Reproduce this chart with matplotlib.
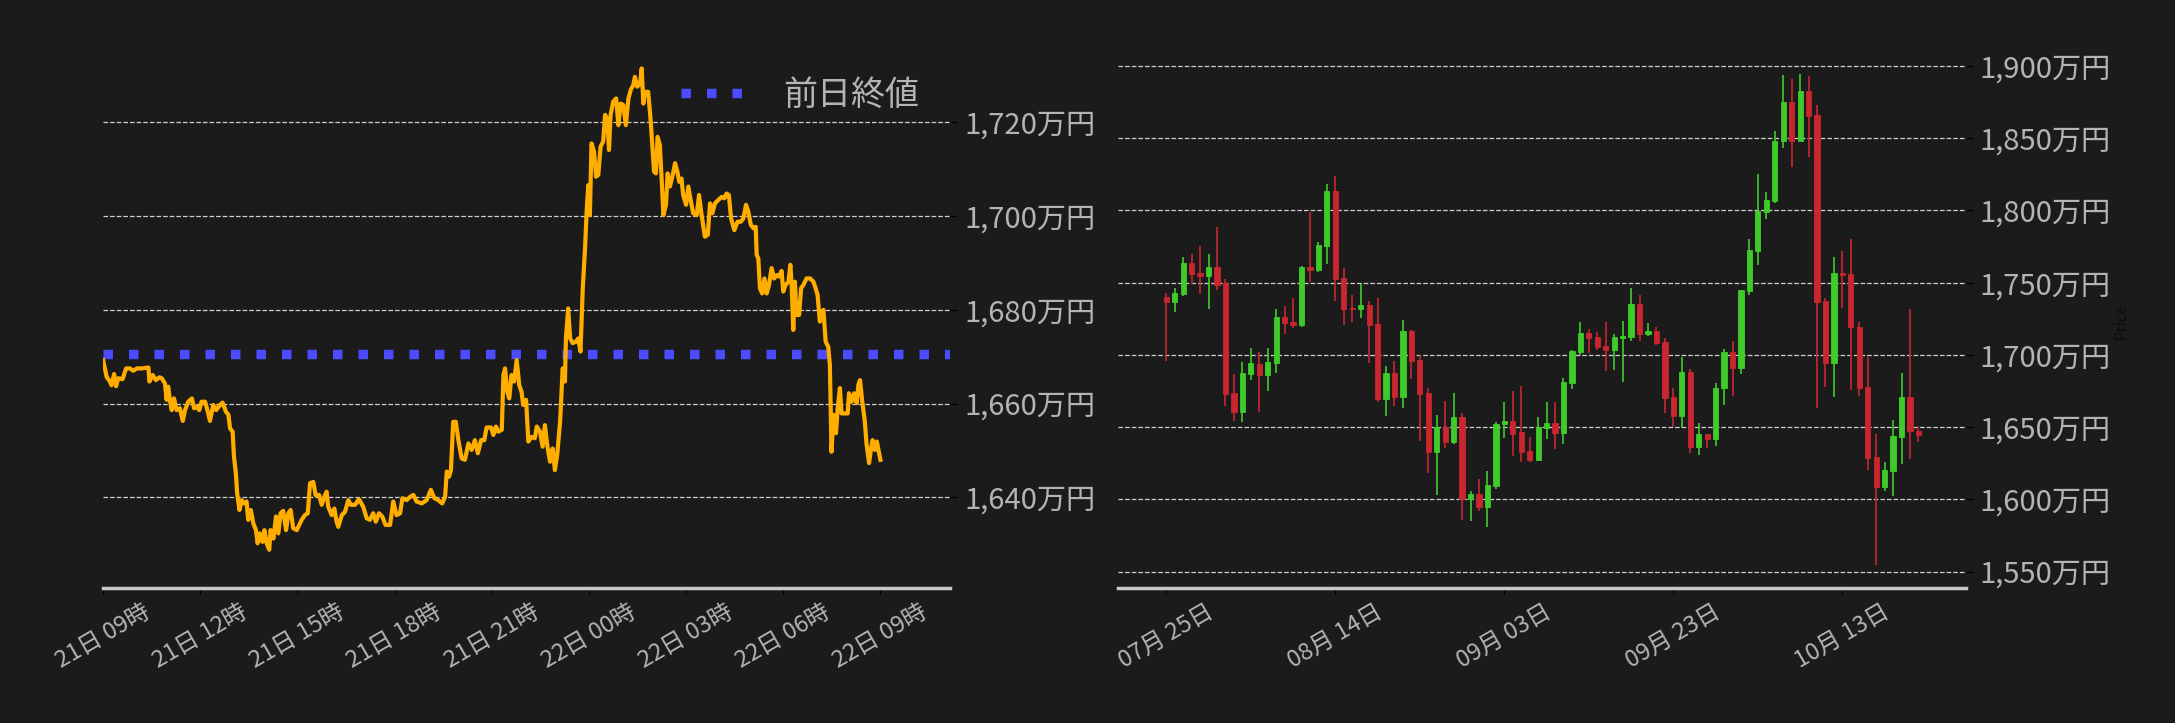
import matplotlib.pyplot as plt
import matplotlib.dates as mdates
import numpy as np
import pandas as pd

plt.rcParams['font.family'] = ['Noto Sans CJK JP', 'DejaVu Sans']

BG = '#1b1b1b'
TXT = '#b4b4b4'
GRID = '#d0d0d0'

# --- intraday price (hours since 21日 09:00, 万円) ---
start = pd.Timestamp('2025-10-21 09:00')
hours = [
    0.00, 0.11, 0.21, 0.26, 0.34, 0.40, 0.47, 0.60, 0.71, 0.83,
    0.93, 1.04, 1.19, 1.40, 1.43, 1.53, 1.63, 1.74, 1.81, 1.91,
    1.96, 2.01, 2.07, 2.12, 2.19, 2.27, 2.37, 2.46, 2.53, 2.63,
    2.74, 2.81, 2.89, 2.97, 3.04, 3.15, 3.22, 3.30, 3.40, 3.49,
    3.61, 3.69, 3.79, 3.87, 3.92, 4.00, 4.04, 4.10, 4.14, 4.21,
    4.28, 4.35, 4.43, 4.48, 4.56, 4.64, 4.72, 4.77, 4.84, 4.92,
    4.98, 5.05, 5.13, 5.17, 5.26, 5.34, 5.41, 5.48, 5.56, 5.65,
    5.72, 5.79, 5.87, 5.98,
    6.13, 6.23, 6.32, 6.39, 6.49, 6.56, 6.67, 6.75, 6.83, 6.90,
    6.95, 7.06, 7.14, 7.21, 7.26, 7.37, 7.47, 7.57, 7.65, 7.78,
    7.90, 8.03, 8.14, 8.24, 8.34, 8.42, 8.52, 8.62, 8.72, 8.86,
    8.96, 9.06, 9.17, 9.24, 9.37, 9.48, 9.58, 9.68, 9.84, 9.99,
    10.12, 10.23, 10.35, 10.47, 10.56, 10.61, 10.68, 10.74, 10.81, 10.89,
    10.97, 11.07, 11.17, 11.28, 11.38, 11.48, 11.57, 11.67, 11.77, 11.84,
    11.98, 12.05,
    12.13, 12.20, 12.31, 12.36, 12.41, 12.48, 12.54, 12.61, 12.69, 12.77,
    12.85, 12.92, 12.97, 13.06, 13.13, 13.23, 13.33, 13.39, 13.49, 13.57,
    13.64, 13.72, 13.80, 13.88, 13.95, 14.02, 14.11, 14.16, 14.19, 14.26,
    14.29, 14.36, 14.42, 14.50, 14.60, 14.67, 14.74, 14.81, 14.88, 14.93,
    14.98, 15.03, 15.08, 15.16, 15.22, 15.29, 15.36, 15.44, 15.50, 15.57,
    15.62, 15.67, 15.75, 15.84, 15.91, 15.98, 16.06, 16.14, 16.22, 16.29,
    16.37, 16.42, 16.49, 16.58, 16.63, 16.68, 16.73, 16.83, 16.91, 16.97,
    17.01, 17.07, 17.12, 17.19, 17.25, 17.30, 17.38, 17.43, 17.50, 17.59,
    17.66, 17.73, 17.79, 17.86, 17.91, 18.00,
    18.07, 18.15, 18.22, 18.33, 18.40, 18.48, 18.58, 18.67, 18.74, 18.81,
    18.89, 18.99, 19.10, 19.18, 19.25, 19.32, 19.39, 19.49, 19.59, 19.69,
    19.77, 19.85, 19.92, 20.00, 20.08, 20.15, 20.18, 20.23, 20.28, 20.35,
    20.42, 20.49, 20.56, 20.64, 20.72, 20.80, 20.87, 20.95, 21.00, 21.07,
    21.16, 21.22, 21.26, 21.31, 21.36, 21.41, 21.49, 21.55, 21.62, 21.72,
    21.83, 21.93, 22.00, 22.06, 22.13, 22.19, 22.24, 22.31, 22.39, 22.44,
    22.49, 22.55, 22.63, 22.68, 22.75, 22.80, 22.89, 22.99, 23.03, 23.11,
    23.19, 23.27, 23.32, 23.37, 23.44, 23.52, 23.57, 23.65, 23.71, 23.76,
    23.83, 23.89, 24.00,
]
prices = [
    1669.3, 1665.7, 1664.7, 1663.9, 1666.3, 1663.7, 1665.4, 1665.2, 1667.5, 1667.5,
    1667.0, 1667.5, 1667.5, 1667.7, 1664.7, 1666.1, 1665.0, 1665.6, 1665.4, 1664.3,
    1660.8, 1663.6, 1660.4, 1658.6, 1661.1, 1658.6, 1659.0, 1656.3, 1658.6, 1660.4,
    1661.1, 1659.0, 1659.3, 1658.6, 1660.4, 1660.4, 1658.6, 1656.3, 1659.7, 1658.6,
    1659.7, 1660.2, 1658.3, 1657.6, 1654.7, 1654.0, 1648.7, 1645.1, 1640.8, 1637.3,
    1639.4, 1638.7, 1639.1, 1635.2, 1637.3, 1634.4, 1633.0, 1630.2, 1632.3, 1630.5,
    1633.0, 1630.2, 1628.8, 1633.0, 1631.2, 1635.9, 1632.3, 1636.6, 1637.1, 1633.0,
    1636.6, 1637.3, 1633.4, 1633.0,
    1635.2, 1636.2, 1636.6, 1643.0, 1643.3, 1640.5, 1640.5, 1638.4, 1640.1, 1641.2,
    1638.0, 1636.2, 1637.6, 1634.8, 1633.7, 1636.2, 1636.9, 1639.4, 1638.4, 1638.4,
    1639.6, 1638.0, 1635.5, 1635.2, 1636.6, 1634.8, 1636.6, 1635.9, 1634.1, 1634.1,
    1639.1, 1636.2, 1636.6, 1639.8, 1639.4, 1640.1, 1640.5, 1639.1, 1638.7, 1639.4,
    1641.6, 1639.8, 1639.4, 1638.7, 1640.1, 1645.5, 1644.4, 1645.8, 1656.1, 1656.1,
    1652.2, 1648.3, 1648.0, 1651.5, 1650.1, 1652.2, 1649.4, 1652.2, 1652.2, 1654.9,
    1654.9, 1653.3,
    1655.1, 1654.0, 1654.4, 1666.1, 1667.5, 1662.5, 1661.1, 1666.1, 1664.7, 1669.3,
    1663.9, 1662.5, 1659.7, 1660.8, 1651.9, 1652.9, 1652.6, 1655.1, 1654.0, 1650.8,
    1655.4, 1650.8, 1647.6, 1650.4, 1645.8, 1649.0, 1656.1, 1663.3, 1667.5, 1664.7,
    1673.9, 1680.3, 1673.9, 1672.9, 1673.2, 1673.9, 1671.1, 1684.6, 1693.1, 1700.9,
    1706.6, 1700.2, 1715.5, 1713.7, 1708.4, 1708.8, 1714.8, 1715.9, 1721.6, 1720.5,
    1714.1, 1721.6, 1724.4, 1725.1, 1719.4, 1724.0, 1723.7, 1719.4, 1725.1, 1726.9,
    1728.0, 1729.7, 1727.6, 1728.3, 1731.5, 1724.0, 1726.5, 1726.5, 1720.1, 1713.7,
    1709.5, 1709.1, 1716.9, 1715.2, 1707.3, 1700.2, 1702.4, 1709.1, 1706.3, 1708.8,
    1711.3, 1709.5, 1707.3, 1708.0, 1704.5, 1702.4,
    1706.3, 1703.1, 1700.6, 1700.2, 1704.5, 1700.2, 1695.6, 1696.0, 1702.7, 1700.6,
    1702.7, 1703.4, 1704.1, 1703.8, 1704.8, 1704.5, 1699.5, 1697.0, 1698.8, 1698.8,
    1699.5, 1702.4, 1701.0, 1698.1, 1697.4, 1697.7, 1691.7, 1691.0, 1684.6, 1683.5,
    1686.7, 1683.5, 1685.3, 1688.9, 1686.7, 1687.4, 1687.1, 1688.3, 1683.9, 1685.3,
    1686.0, 1689.6, 1685.3, 1675.7, 1686.0, 1678.9, 1678.9, 1684.6, 1685.3, 1686.7,
    1686.7, 1686.0, 1684.6, 1683.2, 1677.5, 1679.6, 1680.0, 1673.2, 1672.1, 1668.2,
    1649.7, 1657.6, 1653.7, 1659.0, 1663.3, 1657.9, 1657.9, 1657.9, 1662.2, 1660.4,
    1662.2, 1660.1, 1664.0, 1665.0, 1660.4, 1656.1, 1651.5, 1647.3, 1650.4, 1652.2,
    1650.1, 1651.9, 1648.0,
]
prev_close = 1670.5
left_yticks = [1640, 1660, 1680, 1700, 1720]

# --- daily candles (万円) ---
days = pd.date_range('2025-07-25', periods=90, freq='D')
opens = [
    1740.1, 1736.9, 1742.2, 1763.6, 1756.7, 1754.9, 1760.9, 1749.5, 1673.6, 1660.7,
    1687.0, 1693.7, 1686.3, 1694.6, 1726.2, 1722.8, 1720.7, 1760.9, 1759.0, 1775.6,
    1813.5, 1753.2, 1732.5, 1732.0, 1734.5, 1721.4, 1669.7, 1687.5, 1671.1, 1716.5,
    1696.5, 1673.6, 1633.0, 1650.1, 1639.9, 1657.0, 1600.0, 1603.7, 1594.5, 1609.5,
    1652.2, 1654.2, 1646.6, 1633.5, 1627.5, 1649.6, 1652.9, 1646.2, 1680.8, 1702.2,
    1715.2, 1712.4, 1706.0, 1703.6, 1711.9, 1712.4, 1735.2, 1714.3, 1716.5, 1709.0,
    1670.8, 1657.9, 1688.1, 1636.3, 1645.0, 1641.9, 1676.9, 1701.9, 1691.0, 1744.2,
    1772.1, 1799.1, 1806.7, 1847.8, 1875.2, 1848.2, 1882.7, 1866.2, 1737.4, 1694.6,
    1756.6, 1755.9, 1719.2, 1677.6, 1629.2, 1608.6, 1619.8, 1643.1, 1670.8, 1647.2,
]
highs = [
    1742.6, 1746.1, 1767.5, 1769.9, 1775.4, 1769.9, 1788.5, 1752.3, 1686.8, 1695.1,
    1704.5, 1701.8, 1704.5, 1731.5, 1733.9, 1739.2, 1761.5, 1798.7, 1777.9, 1818.1,
    1823.8, 1759.9, 1741.5, 1748.9, 1737.3, 1739.2, 1692.3, 1695.8, 1724.2, 1717.2,
    1699.7, 1676.9, 1658.4, 1668.1, 1673.6, 1660.0, 1605.8, 1614.1, 1619.6, 1653.5,
    1667.4, 1675.0, 1678.5, 1642.9, 1657.0, 1667.4, 1667.4, 1684.0, 1703.4, 1722.8,
    1717.9, 1715.9, 1722.8, 1714.8, 1723.3, 1746.6, 1741.5, 1722.1, 1719.2, 1711.4,
    1677.4, 1698.3, 1690.0, 1653.1, 1645.0, 1680.3, 1703.9, 1709.4, 1744.9, 1779.9,
    1824.9, 1812.7, 1854.8, 1893.7, 1890.8, 1894.7, 1893.0, 1873.0, 1739.1, 1767.5,
    1771.7, 1779.9, 1722.8, 1698.3, 1645.0, 1625.6, 1654.8, 1687.3, 1732.0, 1651.1,
]
lows = [
    1696.0, 1729.9, 1741.0, 1748.9, 1742.4, 1731.5, 1744.9, 1664.9, 1654.0, 1653.3,
    1682.9, 1660.2, 1674.8, 1687.7, 1714.2, 1718.4, 1719.5, 1750.2, 1757.2, 1762.7,
    1737.1, 1720.5, 1723.0, 1725.3, 1694.2, 1667.4, 1657.5, 1664.9, 1663.0, 1683.1,
    1640.4, 1618.0, 1602.8, 1635.3, 1638.1, 1585.5, 1584.8, 1592.2, 1580.9, 1606.9,
    1642.2, 1629.8, 1625.6, 1626.0, 1627.5, 1641.8, 1634.6, 1638.1, 1676.2, 1699.7,
    1701.1, 1703.2, 1688.5, 1689.8, 1681.2, 1709.4, 1709.4, 1713.1, 1707.0, 1659.9,
    1649.9, 1649.9, 1632.2, 1630.5, 1635.8, 1637.0, 1665.0, 1671.3, 1687.1, 1741.8,
    1762.4, 1794.3, 1805.2, 1842.9, 1830.2, 1848.2, 1837.3, 1663.3, 1677.8, 1671.0,
    1732.5, 1675.9, 1671.8, 1620.0, 1554.6, 1605.9, 1602.3, 1624.6, 1628.0, 1639.7,
]
closes = [
    1736.9, 1742.8, 1763.6, 1756.2, 1754.9, 1760.9, 1748.6, 1673.2, 1660.7, 1687.5,
    1694.4, 1686.3, 1695.1, 1726.2, 1722.3, 1720.9, 1760.9, 1759.0, 1776.1, 1813.5,
    1752.5, 1732.0, 1732.0, 1734.5, 1720.9, 1669.7, 1687.5, 1671.1, 1716.5, 1696.0,
    1673.2, 1633.0, 1650.1, 1639.9, 1657.0, 1600.0, 1603.7, 1594.5, 1609.9, 1652.2,
    1654.2, 1645.5, 1633.0, 1627.5, 1650.1, 1652.9, 1646.2, 1681.2, 1702.7, 1715.2,
    1711.9, 1705.7, 1703.6, 1712.4, 1713.1, 1735.2, 1714.3, 1716.5, 1708.5, 1670.1,
    1657.9, 1688.1, 1636.3, 1645.0, 1641.9, 1676.9, 1701.9, 1691.0, 1744.9, 1772.6,
    1799.6, 1807.2, 1848.2, 1875.2, 1848.2, 1882.7, 1865.7, 1736.9, 1694.6, 1756.6,
    1755.6, 1719.4, 1676.9, 1628.5, 1608.6, 1620.5, 1643.8, 1670.8, 1647.5, 1644.8,
]
right_yticks = [1550, 1600, 1650, 1700, 1750, 1800, 1850, 1900]

fig = plt.figure(figsize=(21.75, 7.23), dpi=100, facecolor=BG)
ax1 = fig.add_axes([0.0474, 0.1867, 0.3894, 0.7372])
ax2 = fig.add_axes([0.5142, 0.1867, 0.3896, 0.7372])


def style_axis(ax):
    ax.set_facecolor(BG)
    for side in ('left', 'right', 'top'):
        ax.spines[side].set_visible(False)
    ax.spines['bottom'].set_color('#c8c8c8')
    ax.spines['bottom'].set_linewidth(2.5)
    ax.yaxis.tick_right()
    ax.yaxis.grid(True, linestyle='--', color=GRID, linewidth=0.9)
    ax.tick_params(axis='y', colors='black', labelcolor=TXT, labelsize=21,
                   length=5, pad=5)
    ax.tick_params(axis='x', colors='black', labelcolor=TXT, labelsize=17,
                   length=4, pad=5, labelrotation=30)


# ---- left: intraday line ----
times = start + pd.to_timedelta(hours, unit='h')
ax1.plot(times, prices, color='#ffae00', linewidth=3, zorder=3)
ax1.axhline(prev_close, color='#4b4bff', linewidth=6.8,
            linestyle=(0, (1, 1.7)), label='前日終値', zorder=2)
ax1.set_xlim(start, start + pd.Timedelta(hours=26.15))
ax1.set_ylim(1620.65, 1734.36)
ax1.set_yticks(left_yticks)
ax1.set_yticklabels([f'{v:,}万円' for v in left_yticks])
ax1.xaxis.set_major_locator(mdates.HourLocator(byhour=range(0, 24, 3)))
ax1.xaxis.set_major_formatter(mdates.DateFormatter('%d日 %H時'))
style_axis(ax1)
leg = ax1.legend(loc='upper right', bbox_to_anchor=(1.0, 1.014),
                 frameon=False, fontsize=24.5,
                 handlelength=1.9, handletextpad=1.1, labelcolor=TXT)

# ---- right: daily candles ----
o = np.array(opens)
h = np.array(highs)
l = np.array(lows)
c = np.array(closes)
x = mdates.date2num(days)
up = c >= o
cols = np.where(up, '#3fcb2a', '#c9262f')
ax2.vlines(x, l, h, colors=cols, linewidth=1.2, zorder=2)
ax2.bar(x, np.abs(c - o), bottom=np.minimum(o, c), width=0.62,
        color=cols, edgecolor=cols, linewidth=0.6, zorder=3)
ax2.set_xlim(x[0] - 5.67, x[0] + 94.6)
ax2.set_ylim(1538.6, 1907.6)
ax2.set_yticks(right_yticks)
ax2.set_yticklabels([f'{v:,}万円' for v in right_yticks])
ax2.set_xticks(x[::20])
ax2.xaxis.set_major_formatter(mdates.DateFormatter('%m月 %d日'))
style_axis(ax2)
ax2.yaxis.set_label_position('right')
ax2.set_ylabel('Price', color='#0c0c0c', fontsize=11, labelpad=1)

fig.savefig('out.png', dpi=100, facecolor=BG)
